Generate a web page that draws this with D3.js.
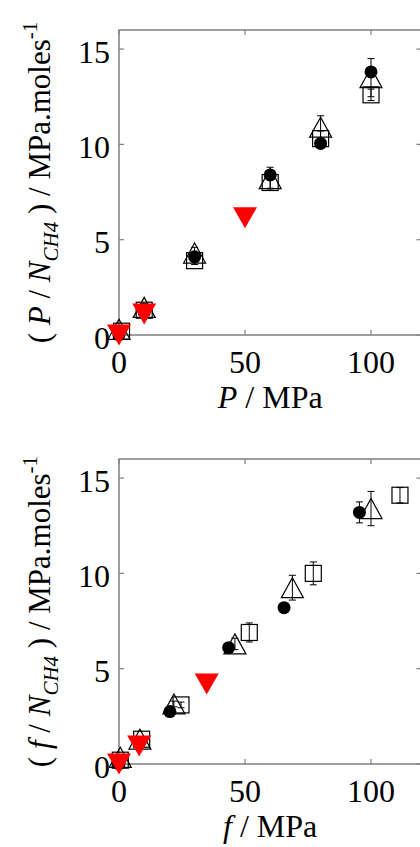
<!DOCTYPE html>
<html>
<head>
<meta charset="utf-8">
<script src="https://cdn.jsdelivr.net/npm/d3@7"></script>
<style>
  body { margin: 0; background: #fff; }
  text { font-family: "Liberation Serif", "DejaVu Serif", serif; fill: #000; }
</style>
</head>
<body>
<div id="chart"></div>
<script>
// ticks
const xTicks = [0, 50, 100];
const yTicks = [0, 5, 10, 15];

// panel 1 : P
const pCircleX = [0, 10, 30, 60, 80, 100];
const pCircleY = [0, 1.2, 4.1, 8.4, 10.05, 13.8];
const pTriX = [0, 10, 30, 60, 80, 100];
const pTriY = [0.3, 1.45, 4.3, 8.2, 10.9, 13.5];
const pTriErr = [0.1, 0.2, 0.3, 0.6, 0.6, 1.0];
const pSqX = [1, 10, 30, 60, 80, 100];
const pSqY = [0.2, 1.3, 3.9, 8.0, 10.3, 12.6];
const pSqErr = [0.05, 0.1, 0.2, 0.3, 0.4, 0.3];
const pRedX = [0, 10, 50];
const pRedY = [0, 1.1, 6.15];

// panel 2 : f
const fCircleX = [0, 8, 20.2, 43.5, 65.5, 95.4];
const fCircleY = [0, 1.1, 2.75, 6.1, 8.2, 13.2];
const fCircleErr = [0, 0, 0, 0.1, 0.1, 0.55];
const fTriX = [0.5, 8.3, 21.8, 46, 68.8, 100];
const fTriY = [0.35, 1.3, 3.15, 6.3, 9.25, 13.4];
const fTriErr = [0.05, 0.1, 0.15, 0.3, 0.65, 0.9];
const fSqX = [0.5, 9, 24.6, 51.7, 77.1, 111.5];
const fSqY = [0.2, 1.3, 3.1, 6.9, 10.0, 14.1];
const fSqErr = [0.05, 0.1, 0.15, 0.5, 0.6, 0.4];
const fRedX = [0, 8, 34.8];
const fRedY = [0, 0.95, 4.2];

const W = 420, H = 847;
const frameColor = "#808080";

const svg = d3.select("#chart").append("svg")
    .attr("width", W)
    .attr("height", H);

function zip(xs, ys, es) {
  return xs.map((x, i) => ({x: x, y: ys[i], e: es ? es[i] : 0}));
}

function panel(opt) {
  const x = d3.scaleLinear().domain([0, 120]).range([119, 421.4]);
  const y = d3.scaleLinear().domain([0, 16]).range([opt.bottom, opt.top]);
  const g = svg.append("g");

  // frame
  g.append("rect")
    .attr("x", x(0)).attr("y", y(16))
    .attr("width", x(120) - x(0)).attr("height", y(0) - y(16))
    .attr("fill", "none").attr("stroke", frameColor).attr("stroke-width", 1.5);

  // inward ticks on all four sides
  xTicks.forEach(t => {
    g.append("line").attr("x1", x(t)).attr("x2", x(t))
      .attr("y1", y(0)).attr("y2", y(0) - 5)
      .attr("stroke", frameColor).attr("stroke-width", 1.2);
    g.append("line").attr("x1", x(t)).attr("x2", x(t))
      .attr("y1", y(16)).attr("y2", y(16) + 5)
      .attr("stroke", frameColor).attr("stroke-width", 1.2);
    g.append("text").attr("x", x(t)).attr("y", y(0) + 38)
      .attr("text-anchor", "middle").attr("font-size", 32).text(t);
  });
  yTicks.forEach(t => {
    g.append("line").attr("x1", x(0)).attr("x2", x(0) + 5)
      .attr("y1", y(t)).attr("y2", y(t))
      .attr("stroke", frameColor).attr("stroke-width", 1.2);
    g.append("line").attr("x1", x(120)).attr("x2", x(120) - 5)
      .attr("y1", y(t)).attr("y2", y(t))
      .attr("stroke", frameColor).attr("stroke-width", 1.2);
    g.append("text").attr("x", 110).attr("y", y(t) + 13.5)
      .attr("text-anchor", "end").attr("font-size", 32).text(t);
  });

  // x label
  const xl = g.append("text").attr("x", (x(0) + x(120)) / 2).attr("y", opt.bottom + 73)
    .attr("text-anchor", "middle").attr("font-size", 32);
  xl.append("tspan").attr("font-style", "italic").text(opt.v);
  xl.append("tspan").text(" / MPa");

  // y label
  const yl = g.append("text")
    .attr("transform", "translate(50," + (opt.top + opt.bottom) / 2 + ") rotate(-90)")
    .attr("text-anchor", "middle").attr("font-size", 31);
  yl.append("tspan").text("( ");
  yl.append("tspan").attr("font-style", "italic").text(opt.v);
  yl.append("tspan").text(" / ");
  yl.append("tspan").attr("font-style", "italic").text("N");
  yl.append("tspan").attr("font-style", "italic").attr("font-size", 21).attr("dy", 8).text("CH4");
  yl.append("tspan").attr("dy", -8).text(" ) / MPa.moles");
  yl.append("tspan").attr("font-size", 21).attr("dy", -13).text("-1");

  // error bars
  function errBars(data) {
    const eb = g.append("g").attr("stroke", "#000").attr("stroke-width", 1);
    data.filter(d => d.e > 0).forEach(d => {
      eb.append("line").attr("x1", x(d.x)).attr("x2", x(d.x))
        .attr("y1", y(d.y - d.e)).attr("y2", y(d.y + d.e));
      [d.y - d.e, d.y + d.e].forEach(v => {
        eb.append("line").attr("x1", x(d.x) - 3.5).attr("x2", x(d.x) + 3.5)
          .attr("y1", y(v)).attr("y2", y(v));
      });
    });
  }

  const circles = zip(opt.cx, opt.cy, opt.ce);
  const tris = zip(opt.tx, opt.ty, opt.te);
  const sqs = zip(opt.sx, opt.sy, opt.se);
  const reds = zip(opt.rx, opt.ry);

  // squares
  g.selectAll(".sq").data(sqs).enter().append("rect")
    .attr("x", d => x(d.x) - 8).attr("y", d => y(d.y) - 8)
    .attr("width", 16).attr("height", 16)
    .attr("fill", "none").attr("stroke", "#000").attr("stroke-width", 1.2);
  errBars(sqs);

  // up triangles
  g.selectAll(".tri").data(tris).enter().append("path")
    .attr("d", d => {
      const cx = x(d.x), cy = y(d.y);
      return "M" + cx + "," + (cy - 10) + "L" + (cx + 11) + "," + (cy + 10) +
        "L" + (cx - 11) + "," + (cy + 10) + "Z";
    })
    .attr("fill", "none").attr("stroke", "#000").attr("stroke-width", 1.2);
  errBars(tris);

  // filled circles
  errBars(circles);
  g.selectAll(".dot").data(circles).enter().append("circle")
    .attr("cx", d => x(d.x)).attr("cy", d => y(d.y)).attr("r", 6.5)
    .attr("fill", "#000");

  // red down triangles
  g.selectAll(".red").data(reds).enter().append("path")
    .attr("d", d => {
      const cx = x(d.x), cy = y(d.y);
      return "M" + (cx - 12) + "," + (cy - 10.5) + "L" + (cx + 12) + "," + (cy - 10.5) +
        "L" + cx + "," + (cy + 10.5) + "Z";
    })
    .attr("fill", "#ff0000");
}

panel({top: 30, bottom: 335, v: "P",
  cx: pCircleX, cy: pCircleY, ce: null,
  tx: pTriX, ty: pTriY, te: pTriErr,
  sx: pSqX, sy: pSqY, se: pSqErr,
  rx: pRedX, ry: pRedY});

panel({top: 459, bottom: 764, v: "f",
  cx: fCircleX, cy: fCircleY, ce: fCircleErr,
  tx: fTriX, ty: fTriY, te: fTriErr,
  sx: fSqX, sy: fSqY, se: fSqErr,
  rx: fRedX, ry: fRedY});
</script>
</body>
</html>
